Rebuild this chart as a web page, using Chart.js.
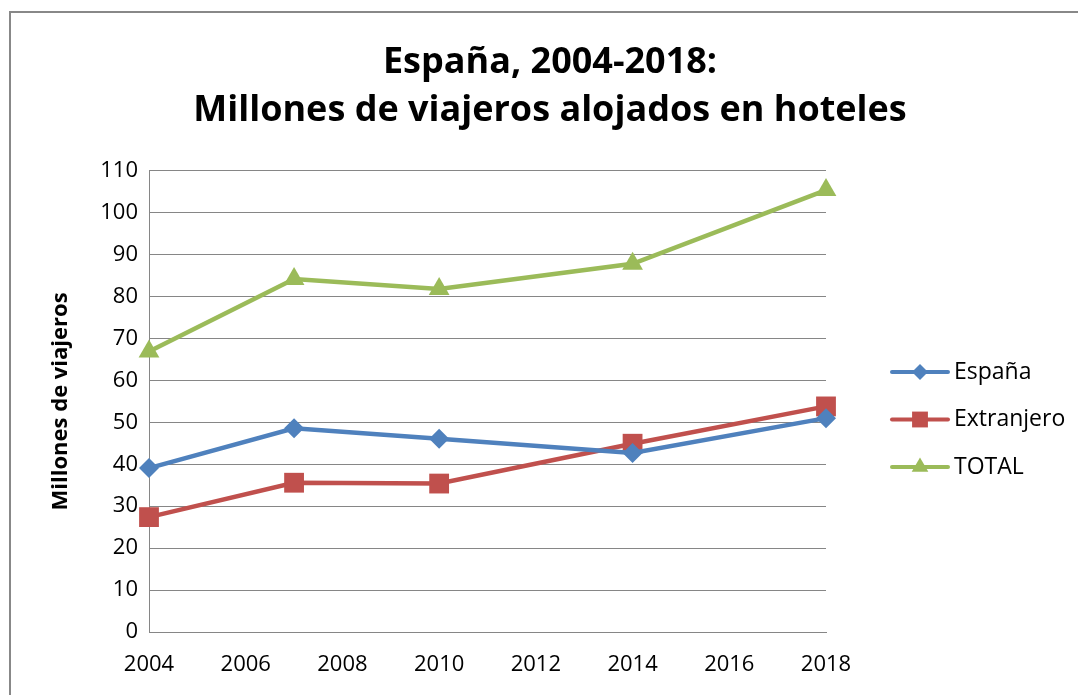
<!DOCTYPE html>
<html>
<head>
<meta charset="utf-8">
<script src="https://cdn.jsdelivr.net/npm/chart.js@4/dist/chart.umd.min.js"></script>
<style>
  html, body { margin: 0; padding: 0; background: #fff; }
  #wrap { position: relative; width: 1078px; height: 695px; }
</style>
</head>
<body>
<div id="wrap"><canvas id="chart" width="1078" height="695"></canvas></div>
<script>
// datos
const years = [2004, 2007, 2010, 2014, 2018];
const espana = [39.1, 48.6, 46.1, 42.7, 51.0];
const extranjero = [27.4, 35.6, 35.4, 44.9, 53.8];
const total = [66.9, 84.2, 81.8, 87.8, 105.4];
const seriesNames = ['España', 'Extranjero', 'TOTAL'];
const titleLines = ['España, 2004-2018:', 'Millones de viajeros alojados en hoteles'];
const yTitle = 'Millones de viajeros';

const colors = ['#4F81BD', '#C0504D', '#9BBB59'];
const markers = ['rectRot', 'rect', 'triangle'];
const markerSize = [10, 14, 12];
const FONT = "'Open Sans', sans-serif";

function toPoints(vals) {
  return years.map((y, i) => ({ x: y, y: vals[i] }));
}

// marco gris del gráfico (como en Excel)
const framePlugin = {
  id: 'frame',
  beforeDraw(chart) {
    const ctx = chart.ctx;
    ctx.save();
    ctx.strokeStyle = '#888888';
    ctx.lineWidth = 2;
    ctx.beginPath();
    ctx.moveTo(10, 695);
    ctx.lineTo(10, 12);
    ctx.lineTo(1078, 12);
    ctx.stroke();
    ctx.restore();
  }
};

// leyenda con línea + marcador
const legendPlugin = {
  id: 'lineLegend',
  afterDraw(chart) {
    const ctx = chart.ctx;
    const area = chart.chartArea;
    const x0 = area.right + 66;
    const y0 = 372;
    ctx.save();
    chart.data.datasets.forEach((ds, i) => {
      const y = y0 + i * 47.5;
      ctx.strokeStyle = ds.borderColor;
      ctx.lineWidth = 4;
      ctx.lineCap = 'round';
      ctx.beginPath();
      ctx.moveTo(x0, y);
      ctx.lineTo(x0 + 56, y);
      ctx.stroke();
      ctx.fillStyle = ds.backgroundColor;
      Chart.helpers.drawPoint(ctx, {
        pointStyle: ds.pointStyle,
        radius: ds.pointRadius * 0.8,
        borderWidth: 0
      }, x0 + 28, y);
      ctx.fillStyle = '#000';
      ctx.font = '23px ' + FONT;
      ctx.textBaseline = 'middle';
      ctx.textAlign = 'left';
      ctx.fillText(ds.label, x0 + 62, y);
    });
    ctx.restore();
  }
};

const datasets = [espana, extranjero, total].map((vals, i) => ({
  label: seriesNames[i],
  data: toPoints(vals),
  borderColor: colors[i],
  backgroundColor: colors[i],
  borderWidth: 4.5,
  pointStyle: markers[i],
  pointRadius: markerSize[i],
  pointHoverRadius: markerSize[i],
  pointBorderWidth: 0,
  tension: 0,
  clip: false
}));

new Chart(document.getElementById('chart'), {
  type: 'line',
  data: { datasets: datasets },
  options: {
    responsive: false,
    animation: false,
    layout: { padding: { left: 22, right: 0, top: 12, bottom: 0 } },
    plugins: {
      legend: { display: false },
      tooltip: { enabled: false },
      title: {
        display: true,
        text: titleLines,
        color: '#000',
        font: { family: FONT, size: 36, weight: 'bold', lineHeight: 1.33 },
        padding: { top: 27, bottom: 36 }
      }
    },
    scales: {
      x: {
        type: 'linear',
        min: 2004,
        max: 2018,
        grid: { display: false, drawTicks: false },
        border: { display: true, color: '#868686', width: 1 },
        ticks: {
          stepSize: 2,
          padding: 20,
          color: '#000',
          font: { family: FONT, size: 22 },
          callback: v => String(v)
        },
        afterFit: s => { s.height = 63; }
      },
      y: {
        min: 0,
        max: 110,
        grid: { color: '#868686', lineWidth: 1, drawTicks: false },
        border: { display: true, color: '#868686', width: 1 },
        ticks: {
          stepSize: 10,
          padding: 11,
          color: '#000',
          font: { family: FONT, size: 22 }
        },
        title: {
          display: true,
          text: yTitle,
          color: '#000',
          font: { family: FONT, size: 22, weight: 'bold', lineHeight: 1.2 },
          padding: { top: 26, bottom: 0 }
        },
        afterFit: s => { s.width = 127; }
      },
      yRight: {
        position: 'right',
        display: true,
        grid: { display: false, drawTicks: false },
        border: { display: false },
        ticks: { display: false },
        afterFit: s => { s.width = 252; }
      }
    }
  },
  plugins: [framePlugin, legendPlugin]
});
</script>
</body>
</html>
